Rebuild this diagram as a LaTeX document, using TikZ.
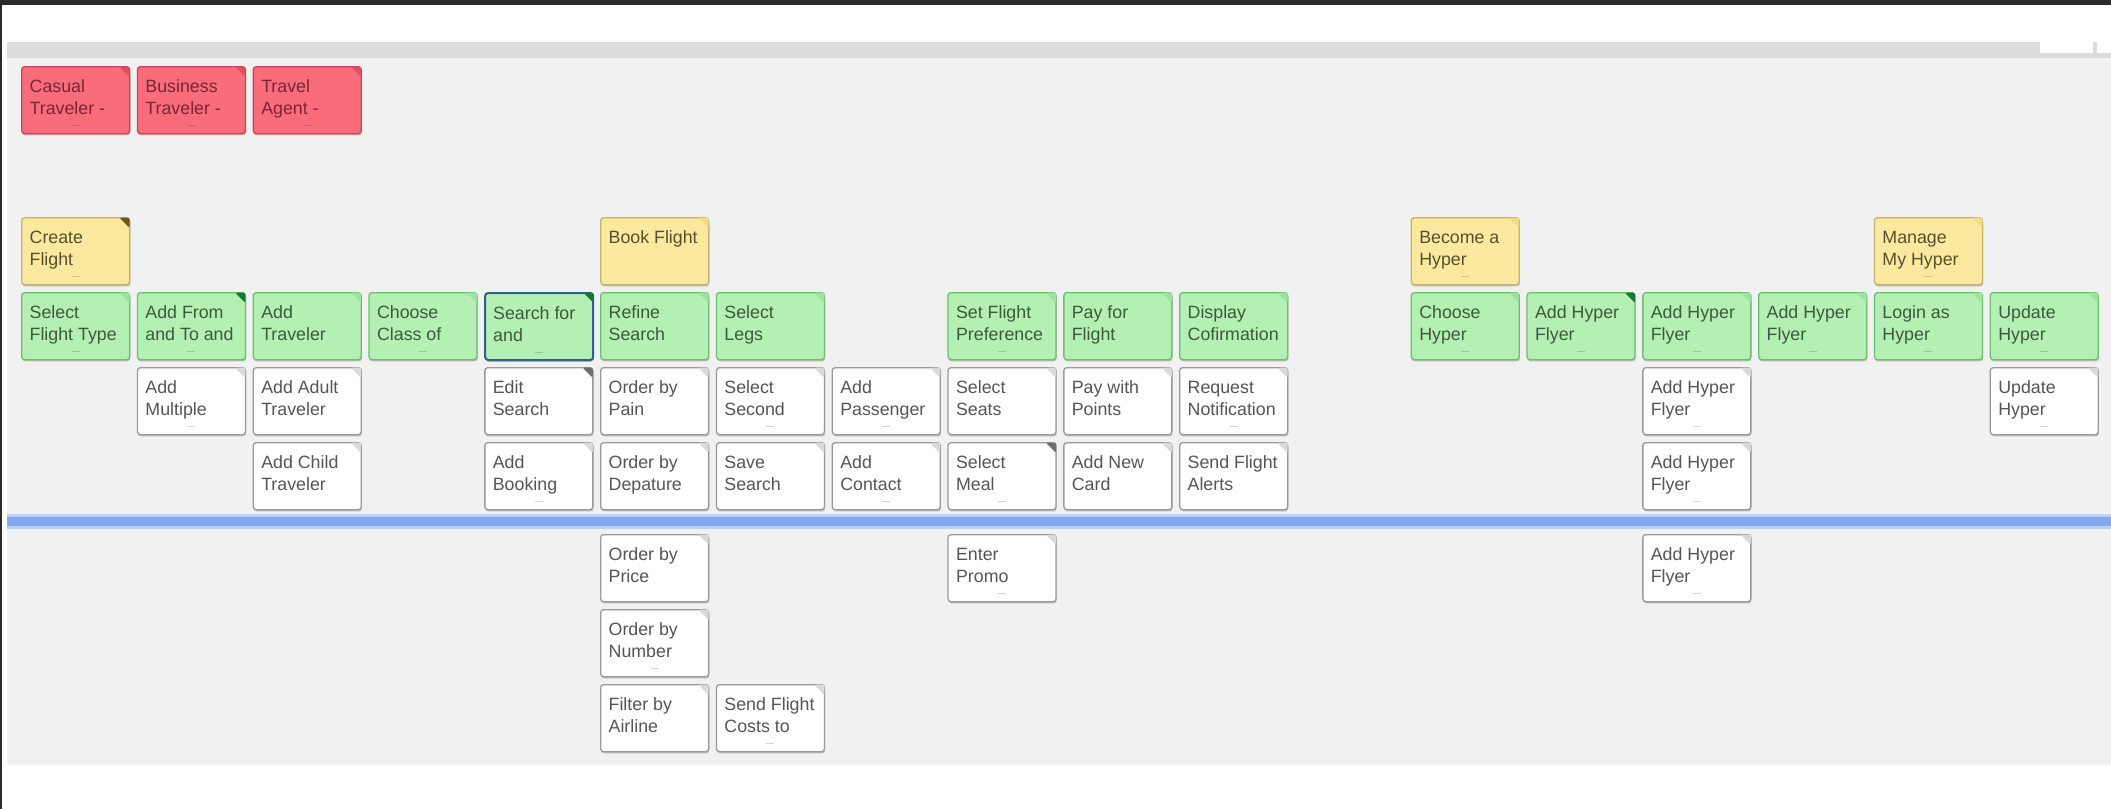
\documentclass[tikz,border=0pt]{standalone}
\usepackage{fontspec}
\setmainfont{Liberation Sans}
\usetikzlibrary{shadows}
\definecolor{darkC}{HTML}{2B2B2B}
\definecolor{barC}{HTML}{DCDCDC}
\definecolor{canvasC}{HTML}{F1F1F1}
\definecolor{blueC}{HTML}{82A8F0}
\definecolor{blueL}{HTML}{B9D0F8}
\definecolor{redF}{HTML}{F86C7C}
\definecolor{redB}{HTML}{C04A5A}
\definecolor{redT}{HTML}{7A2533}
\definecolor{redK}{HTML}{D9505F}
\definecolor{yelF}{HTML}{FCE9A0}
\definecolor{yelB}{HTML}{C6B26A}
\definecolor{yelT}{HTML}{56502E}
\definecolor{yelK}{HTML}{F2DA86}
\definecolor{yelD}{HTML}{6B5A1E}
\definecolor{grnF}{HTML}{B4F0B4}
\definecolor{grnB}{HTML}{6CBF6C}
\definecolor{grnT}{HTML}{3B5A3B}
\definecolor{grnK}{HTML}{9FE29F}
\definecolor{grnD}{HTML}{16783A}
\definecolor{selB}{HTML}{2D5F8F}
\definecolor{whtB}{HTML}{9A9A9A}
\definecolor{whtT}{HTML}{555555}
\definecolor{whtK}{HTML}{DADADA}
\definecolor{whtD}{HTML}{6E6E6E}
\tikzset{
  card/.style={draw, rounded corners=3pt, line width=1.3pt, inner sep=0pt, anchor=north west,
    drop shadow={shadow xshift=0.6pt, shadow yshift=-1.8pt, opacity=0.22, fill=black}},
  redcard/.style={card, fill=redF, draw=redB, text=redT},
  yelcard/.style={card, fill=yelF, draw=yelB, text=yelT},
  grncard/.style={card, fill=grnF, draw=grnB, text=grnT},
  selcard/.style={card, fill=grnF, draw=selB, line width=2pt, text=grnT},
  whtcard/.style={card, fill=white, draw=whtB, text=whtT},
  dotmark/.style={line width=0.9pt, black, opacity=0.16},
}
\newcommand\cardtext[1]{\parbox[t][67pt][t]{108pt}{\fontsize{17.8}{22}\selectfont\raggedright\leftskip=8pt\rule{0pt}{26pt}#1}}
\newcommand\crd[5]{\node[#4] (#1) at ({21+(#2-1)*115.8},#3) {\cardtext{#5}};}
\newcommand\crn[2]{\fill[#2, rounded corners=2pt] (#1.north east) ++(-11pt,-0.7pt) -- ++(10.3pt,0pt) -- ++(0pt,-10.3pt) -- cycle;}
\newcommand\dts[1]{\draw[dotmark] ([xshift=-4pt,yshift=9pt]#1.south) -- ([xshift=4pt,yshift=9pt]#1.south);}
\begin{document}
\begin{tikzpicture}[x=1pt,y=-1pt]
\useasboundingbox (0,0) rectangle (2111,809);
\fill[white] (0,0) rectangle (2111,809);
% frame
\fill[darkC] (0,0) rectangle (2111,5);
\fill[darkC] (0,0) rectangle (1.5,809);
\fill[barC] (7,42) rectangle (2111,58);
\fill[white] (2040,42) rectangle (2093,53);
\fill[white] (2097,42) rectangle (2111,53);
\fill[canvasC] (7,58) rectangle (2111,765);
% release line
\fill[blueL] (7,514) rectangle (2111,529);
\fill[blueC] (7,517) rectangle (2111,526);
% users
\crd{u1}{1}{66}{redcard}{Casual\\Traveler -}
\crd{u2}{2}{66}{redcard}{Business\\Traveler -}
\crd{u3}{3}{66}{redcard}{Travel\\Agent -}
\crn{u1}{redK}\crn{u2}{redK}\crn{u3}{redK}
\dts{u1}\dts{u2}\dts{u3}
% activities
\crd{a1}{1}{217}{yelcard}{Create\\Flight}
\crd{a2}{6}{217}{yelcard}{Book Flight}
\crd{a3}{13}{217}{yelcard}{Become a\\Hyper}
\crd{a4}{17}{217}{yelcard}{Manage\\My Hyper}
\crn{a1}{yelD}\crn{a2}{yelK}\crn{a3}{yelK}\crn{a4}{yelK}
\dts{a1}\dts{a3}\dts{a4}
% tasks
\crd{t1}{1}{292}{grncard}{Select\\Flight Type}
\crd{t2}{2}{292}{grncard}{Add From\\and To and}
\crd{t3}{3}{292}{grncard}{Add\\Traveler}
\crd{t4}{4}{292}{grncard}{Choose\\Class of}
\crd{t5}{5}{292}{selcard}{Search for\\and}
\crd{t6}{6}{292}{grncard}{Refine\\Search}
\crd{t7}{7}{292}{grncard}{Select\\Legs}
\crd{t9}{9}{292}{grncard}{Set Flight\\Preference}
\crd{t10}{10}{292}{grncard}{Pay for\\Flight}
\crd{t11}{11}{292}{grncard}{Display\\Cofirmation}
\crd{t13}{13}{292}{grncard}{Choose\\Hyper}
\crd{t14}{14}{292}{grncard}{Add Hyper\\Flyer}
\crd{t15}{15}{292}{grncard}{Add Hyper\\Flyer}
\crd{t16}{16}{292}{grncard}{Add Hyper\\Flyer}
\crd{t17}{17}{292}{grncard}{Login as\\Hyper}
\crd{t18}{18}{292}{grncard}{Update\\Hyper}
\crn{t1}{grnK}\crn{t2}{grnD}\crn{t3}{grnK}\crn{t4}{grnK}\crn{t5}{grnD}\crn{t6}{grnK}
\crn{t7}{grnK}\crn{t9}{grnK}\crn{t10}{grnK}\crn{t11}{grnK}\crn{t13}{grnK}\crn{t14}{grnD}
\crn{t15}{grnK}\crn{t16}{grnK}\crn{t17}{grnK}\crn{t18}{grnK}
\dts{t1}\dts{t2}\dts{t4}\dts{t5}\dts{t9}\dts{t13}\dts{t14}\dts{t15}\dts{t16}\dts{t17}\dts{t18}
% stories row 1
\crd{s2a}{2}{367}{whtcard}{Add\\Multiple}
\crd{s3a}{3}{367}{whtcard}{Add Adult\\Traveler}
\crd{s5a}{5}{367}{whtcard}{Edit\\Search}
\crd{s6a}{6}{367}{whtcard}{Order by\\Pain}
\crd{s7a}{7}{367}{whtcard}{Select\\Second}
\crd{s8a}{8}{367}{whtcard}{Add\\Passenger}
\crd{s9a}{9}{367}{whtcard}{Select\\Seats}
\crd{s10a}{10}{367}{whtcard}{Pay with\\Points}
\crd{s11a}{11}{367}{whtcard}{Request\\Notification}
\crd{s15a}{15}{367}{whtcard}{Add Hyper\\Flyer}
\crd{s18a}{18}{367}{whtcard}{Update\\Hyper}
% stories row 2
\crd{s3b}{3}{442}{whtcard}{Add Child\\Traveler}
\crd{s5b}{5}{442}{whtcard}{Add\\Booking}
\crd{s6b}{6}{442}{whtcard}{Order by\\Depature}
\crd{s7b}{7}{442}{whtcard}{Save\\Search}
\crd{s8b}{8}{442}{whtcard}{Add\\Contact}
\crd{s9b}{9}{442}{whtcard}{Select\\Meal}
\crd{s10b}{10}{442}{whtcard}{Add New\\Card}
\crd{s11b}{11}{442}{whtcard}{Send Flight\\Alerts}
\crd{s15b}{15}{442}{whtcard}{Add Hyper\\Flyer}
% below release line
\crd{s6c}{6}{534}{whtcard}{Order by\\Price}
\crd{s9c}{9}{534}{whtcard}{Enter\\Promo}
\crd{s15c}{15}{534}{whtcard}{Add Hyper\\Flyer}
\crd{s6d}{6}{609}{whtcard}{Order by\\Number}
\crd{s6e}{6}{684}{whtcard}{Filter by\\Airline}
\crd{s7e}{7}{684}{whtcard}{Send Flight\\Costs to}
\crn{s2a}{whtK}\crn{s3a}{whtK}\crn{s5a}{whtD}\crn{s6a}{whtK}\crn{s7a}{whtK}\crn{s8a}{whtK}
\crn{s9a}{whtK}\crn{s10a}{whtK}\crn{s11a}{whtK}\crn{s15a}{whtK}\crn{s18a}{whtK}
\crn{s3b}{whtK}\crn{s5b}{whtK}\crn{s6b}{whtK}\crn{s7b}{whtK}\crn{s8b}{whtK}\crn{s9b}{whtD}
\crn{s10b}{whtK}\crn{s11b}{whtK}\crn{s15b}{whtK}
\crn{s6c}{whtK}\crn{s9c}{whtK}\crn{s15c}{whtK}\crn{s6d}{whtK}\crn{s6e}{whtK}\crn{s7e}{whtK}
\dts{s2a}\dts{s7a}\dts{s8a}\dts{s11a}\dts{s15a}\dts{s18a}
\dts{s5b}\dts{s8b}\dts{s9b}\dts{s15b}
\dts{s6d}\dts{s7e}\dts{s9c}\dts{s15c}
\end{tikzpicture}
\end{document}
